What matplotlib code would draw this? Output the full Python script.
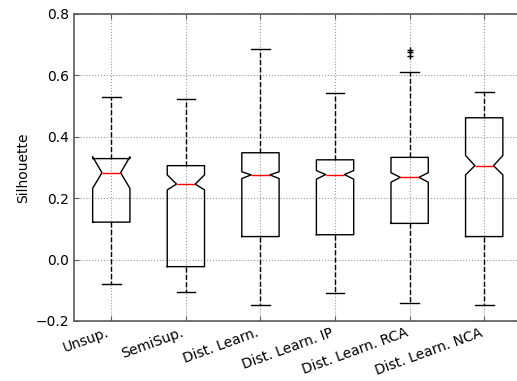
import matplotlib
matplotlib.use("Agg")
import matplotlib.pyplot as plt

labels = ["Unsup.", "SemiSup.", "Dist. Learn.", "Dist. Learn. IP",
          "Dist. Learn. RCA", "Dist. Learn. NCA"]
medians = [0.283, 0.246, 0.276, 0.277, 0.268, 0.306]
q1 = [0.122, -0.023, 0.075, 0.081, 0.118, 0.075]
q3 = [0.329, 0.306, 0.348, 0.325, 0.333, 0.462]
whisk_lo = [-0.078, -0.106, -0.149, -0.108, -0.140, -0.149]
whisk_hi = [0.529, 0.524, 0.686, 0.544, 0.612, 0.546]
notch_lo = [0.232, 0.227, 0.264, 0.262, 0.252, 0.276]
notch_hi = [0.335, 0.276, 0.286, 0.290, 0.283, 0.339]
outliers = [[], [], [], [], [0.684, 0.677, 0.663], []]


def main():
    stats = []
    for i in range(len(labels)):
        stats.append({
            "label": labels[i],
            "med": medians[i],
            "q1": q1[i],
            "q3": q3[i],
            "whislo": whisk_lo[i],
            "whishi": whisk_hi[i],
            "cilo": notch_lo[i],
            "cihi": notch_hi[i],
            "fliers": outliers[i],
        })

    fig = plt.figure(figsize=(5.17, 3.81), dpi=100)
    ax = fig.add_axes([74 / 517, 1 - 321 / 381, 447.5 / 517, 307 / 381])

    ax.bxp(stats, shownotches=True, widths=0.5,
           boxprops=dict(color="k", linewidth=1),
           whiskerprops=dict(color="k", linestyle="--", linewidth=1),
           capprops=dict(color="k", linewidth=1),
           medianprops=dict(color="r", linewidth=1),
           flierprops=dict(marker="+", markeredgecolor="k", markersize=5))

    ax.set_xlim(0.5, 6.5)
    ax.set_ylim(-0.2, 0.8)
    ax.set_yticks([-0.2, 0.0, 0.2, 0.4, 0.6, 0.8])
    ax.set_xticklabels(labels, rotation=20, ha="right", fontsize=10)
    ax.tick_params(direction="in", top=True, right=True, labelsize=10,
                   color="0.35")
    for s in ax.spines.values():
        s.set_color("0.35")
        s.set_linewidth(1.2)
    ax.grid(True, color="0.6", linestyle=":", linewidth=0.8)
    ax.set_ylabel("Silhouette", fontsize=10)

    fig.savefig("out.png", dpi=100)


if __name__ == "__main__":
    main()
